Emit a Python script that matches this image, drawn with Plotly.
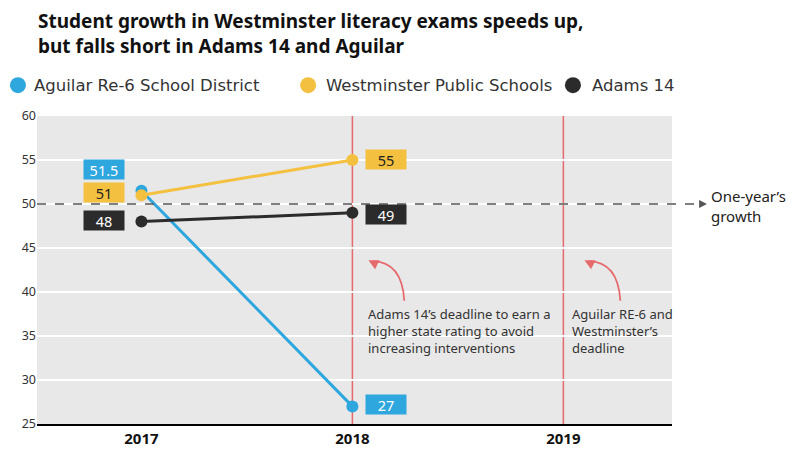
import plotly.graph_objects as go

# data
years = [2017, 2018]
aguilar = [51.5, 27]
westminster = [51, 55]
adams = [48, 49]

series_names = ["Aguilar Re-6 School District", "Westminster Public Schools", "Adams 14"]
series_values = [aguilar, westminster, adams]
series_colors = ["#2ea6de", "#f4c03f", "#2b2b2b"]
label_text_colors = ["white", "#222222", "white"]

deadline_years = [2018, 2019]
growth_line = 50

FONT = "Noto Sans"

fig = go.Figure()

for name, vals, color in zip(series_names, series_values, series_colors):
    fig.add_trace(go.Scatter(
        x=years, y=vals, mode="lines+markers", name=name,
        line=dict(color=color, width=3),
        marker=dict(color=color, size=12),
        showlegend=False, hoverinfo="skip",
    ))

# legend drawn by hand so the entries sit where the original has them
# (dot centre, text start) in paper x
legend_x = [(-0.030, -0.008), (0.427, 0.452), (0.844, 0.871)]
legend_y = 1.1
for name, color, (dot_x, txt_x) in zip(series_names, series_colors, legend_x):
    fig.add_shape(type="circle", xref="paper", yref="paper",
                  xsizemode="pixel", ysizemode="pixel",
                  xanchor=dot_x, yanchor=legend_y, x0=-8, x1=8, y0=-8, y1=8,
                  fillcolor=color, line=dict(width=0))
    fig.add_annotation(x=txt_x, y=legend_y, xref="paper", yref="paper",
                       xanchor="left", yanchor="middle", showarrow=False,
                       text=name, font=dict(family="DejaVu Sans", size=16.5, color="#333333"))

# value boxes next to the points
# (x shift, y shift) for each label, first year / second year
offsets = [[(-37, 21), (34, 2)], [(-37, 3), (34, 1)], [(-37, 1), (34, -2)]]
for vals, color, tcolor, offs in zip(series_values, series_colors, label_text_colors, offsets):
    for x, v, (dx, dy) in zip(years, vals, offs):
        fig.add_annotation(
            x=x, y=v, text=str(v), showarrow=False,
            xshift=dx, yshift=dy, width=40, height=19,
            bgcolor=color, borderpad=0,
            font=dict(family=FONT, size=14.5, color=tcolor),
        )

# red deadline lines
for yr in deadline_years:
    fig.add_shape(type="line", x0=yr, x1=yr, y0=0, y1=1, xref="x", yref="paper",
                  line=dict(color="#e66a6c", width=1.5), layer="below")

# one-year's growth dashed line, runs out past the plot
fig.add_shape(type="line", x0=0, x1=1.045, y0=growth_line, y1=growth_line,
              xref="paper", yref="y", line=dict(color="#555555", width=1.3, dash="dash"))
fig.add_annotation(x=1.055, y=growth_line, xref="paper", yref="y", text="",
                   showarrow=True, arrowhead=2, arrowsize=1.2, arrowwidth=1.3,
                   arrowcolor="#555555", ax=-8, ay=0)
fig.add_annotation(x=1.058, y=growth_line, xref="paper", yref="y",
                   text="One-year’s<br>growth", showarrow=False, xanchor="left",
                   yanchor="middle", align="left", yshift=-2,
                   font=dict(family=FONT, size=15, color="#222222"))

# curved arrows and notes for the deadlines
notes = [
    "Adams 14’s deadline to earn a<br>higher state rating to avoid<br>increasing interventions",
    "Aguilar RE-6 and<br>Westminster’s<br>deadline",
]
# (tail x, head x, text x) as offsets from the deadline year
note_pos = [(0.246, 0.076, 0.066), (0.27, 0.10, 0.033)]
for yr, note, (tx, hx, nx) in zip(deadline_years, notes, note_pos):
    x_tail = yr + tx
    x_head = yr + hx
    fig.add_shape(type="path", xref="x", yref="y",
                  path=f"M {x_tail},39.0 Q {x_tail - 0.01},43.4 {x_head + 0.02},43.5",
                  line=dict(color="#e66a6c", width=1.8))
    fig.add_annotation(x=x_head, y=43.6, xref="x", yref="y", text="",
                       showarrow=True, arrowhead=2, arrowsize=1.1, arrowwidth=1.8,
                       arrowcolor="#e66a6c", ax=6, ay=3)
    fig.add_annotation(x=yr + nx, y=38.75, xref="x", yref="y", text=note,
                       showarrow=False, xanchor="left", yanchor="top", align="left",
                       font=dict(family=FONT, size=13, color="#333333"))

# title, two lines
title_lines = ["Student growth in Westminster literacy exams speeds up,",
               "but falls short in Adams 14 and Aguilar"]
for i, line in enumerate(title_lines):
    fig.add_annotation(
        x=0, y=1.308 - i * 0.0815, xref="paper", yref="paper", xanchor="left",
        yanchor="middle", showarrow=False, text=f"<b>{line}</b>", borderpad=0,
        font=dict(family=FONT, size=19, color="#111111"),
    )

fig.update_layout(
    width=800, height=451,
    margin=dict(l=37, r=128, t=116, b=27, autoexpand=False),
    paper_bgcolor="white",
    plot_bgcolor="#e8e8e8",
    font=dict(family=FONT, color="#333333"),
    showlegend=False,
    xaxis=dict(
        range=[2016.505, 2019.515], tickvals=[2017, 2018, 2019],
        ticktext=["<b>2017</b>", "<b>2018</b>", "<b>2019</b>"],
        showgrid=False, zeroline=False, showline=True, linecolor="black",
        linewidth=2, ticks="", tickfont=dict(family=FONT, size=15, color="#111111"),
    ),
    yaxis=dict(
        range=[25, 60], dtick=5, gridcolor="white", gridwidth=1.5,
        zeroline=False, ticks="", tickfont=dict(family=FONT, size=12.5, color="#333333"),
    ),
)

fig.write_html("out.html", config={"displayModeBar": False},
               post_script="document.body.style.margin='0';")
